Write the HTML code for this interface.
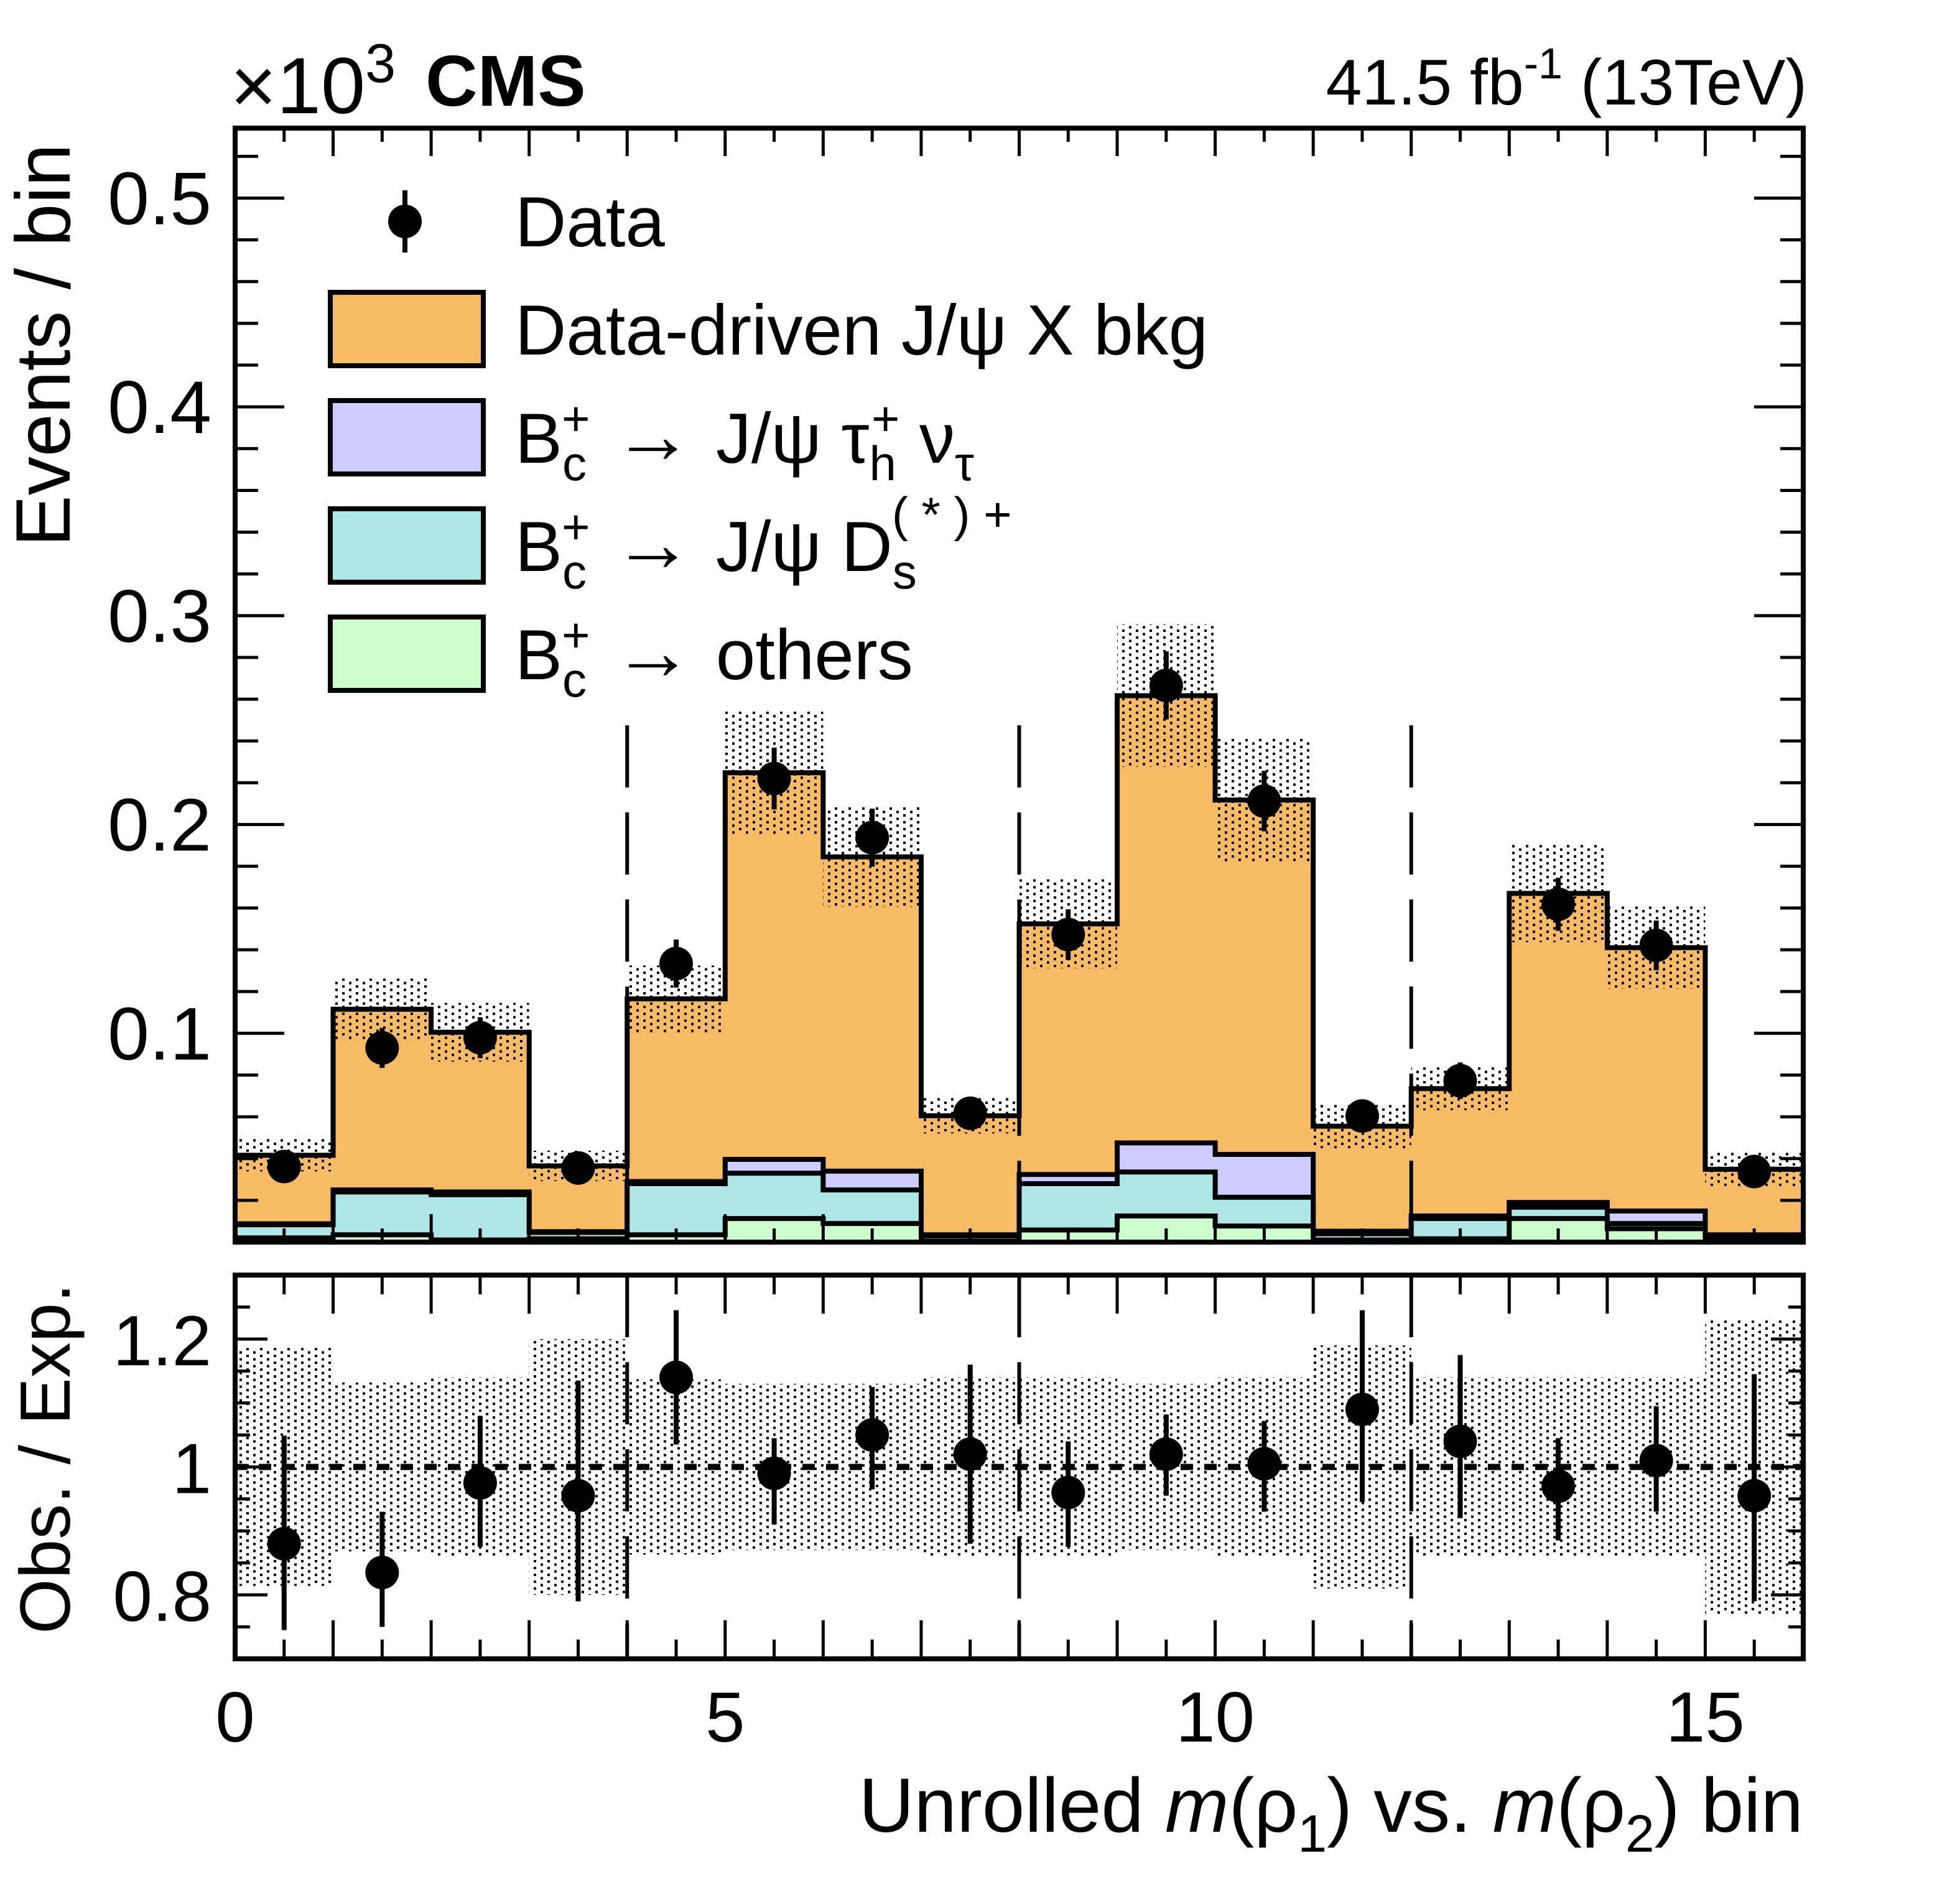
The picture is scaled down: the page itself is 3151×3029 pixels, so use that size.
<!DOCTYPE html>
<html><head><meta charset="utf-8">
<style>
html,body{margin:0;padding:0;background:#fff;}
svg{display:block;font-family:"Liberation Sans",Arial,sans-serif;}
</style></head>
<body>
<svg id="chart" xmlns="http://www.w3.org/2000/svg" width="3151" height="3029" viewBox="0 0 3151 3029">
<defs>
<pattern id="dots" width="22" height="11" patternUnits="userSpaceOnUse">
<rect x="0" y="0" width="4" height="4" fill="#000"/>
<rect x="11" y="5.5" width="4" height="4" fill="#000"/>
</pattern>
<clipPath id="clipU"><rect x="378" y="206" width="2521" height="1791"/></clipPath>
<clipPath id="clipL"><rect x="378" y="2050" width="2521" height="617"/></clipPath>
</defs>
<g id="upper"></g>
<g id="lower"></g>
<g id="labels">
<text x="370" y="182" font-size="128">×10<tspan font-size="88" dy="-50">3</tspan></text>
<text x="684" y="170" font-size="116" font-weight="bold">CMS</text>
<text x="2905" y="168" font-size="104" text-anchor="end">41.5 fb<tspan font-size="70" dy="-42">-1</tspan><tspan dy="42"> (13TeV)</tspan></text>
<text transform="translate(112,555) rotate(-90)" font-size="124" text-anchor="middle">Events / bin</text>
<text transform="translate(112,2345) rotate(-90)" font-size="114" text-anchor="middle">Obs. / Exp.</text>
<text x="2899" y="2945" font-size="123" text-anchor="end">Unrolled <tspan font-style="italic">m</tspan>(ρ<tspan font-size="84" dy="32">1</tspan><tspan dy="-32">) vs. </tspan><tspan font-style="italic">m</tspan>(ρ<tspan font-size="84" dy="32">2</tspan><tspan dy="-32">) bin</tspan></text>
</g>
<g id="legend">
<line x1="651" y1="306" x2="651" y2="406" stroke="#000" stroke-width="8"/>
<ellipse cx="651" cy="356" rx="27" ry="27" fill="#000"/>
<text x="828" y="396" font-size="114">Data</text>
<rect x="531" y="470" width="246" height="118" fill="#F7BB66" stroke="#000" stroke-width="8"/>
<text x="828" y="570" font-size="114">Data-driven J/ψ X bkg</text>
<rect x="531" y="644" width="246" height="118" fill="#CCCCFF" stroke="#000" stroke-width="8"/>
<text x="828" y="744" font-size="114">B<tspan font-size="78" dy="28">c</tspan><tspan font-size="78" dx="-40" dy="-72">+</tspan><tspan dy="44" font-size="130"> → </tspan><tspan>J/ψ  τ</tspan><tspan font-size="78" dy="28">h</tspan><tspan font-size="78" dx="-40" dy="-72">+</tspan><tspan dy="44">  ν</tspan><tspan font-size="78" dy="28">τ</tspan></text>
<rect x="531" y="818" width="246" height="118" fill="#AEE6E6" stroke="#000" stroke-width="8"/>
<text x="828" y="918" font-size="114">B<tspan font-size="78" dy="28">c</tspan><tspan font-size="78" dx="-40" dy="-72">+</tspan><tspan dy="44" font-size="130"> → </tspan><tspan>J/ψ  D</tspan><tspan font-size="78" dy="28">s</tspan><tspan font-size="78" dx="-40" dy="-92">( * ) +</tspan></text>
<rect x="531" y="992" width="246" height="118" fill="#CCFFCC" stroke="#000" stroke-width="8"/>
<text x="828" y="1092" font-size="114">B<tspan font-size="78" dy="28">c</tspan><tspan font-size="78" dx="-40" dy="-72">+</tspan><tspan dy="44" font-size="130"> → </tspan><tspan>others</tspan></text>
</g>
</svg>
<script>
const bins = [0,1,2,3,4,5,6,7,8,9,10,11,12,13,14,15];
const others = [0.002,0.0035,0.001,0.0016,0.0035,0.0113,0.0089,0.0005,0.0058,0.0125,0.0077,0.001,0.0016,0.0113,0.0064,0.0016];
const dsComp = [0.0063,0.0205,0.0217,0.003,0.0245,0.0217,0.0161,0.0025,0.0222,0.0211,0.0138,0.003,0.0097,0.0054,0.0025,0.0014];
const tauComp = [0.0005,0.001,0.0013,0.0004,0.001,0.0066,0.009,0.0005,0.0044,0.0139,0.0205,0.0012,0.0012,0.0023,0.006,0.0005];
const jpsiX = [0.0328,0.0865,0.0765,0.0315,0.0875,0.1852,0.1505,0.0570,0.1200,0.2142,0.1697,0.0503,0.0610,0.1480,0.1261,0.0314];
const dataVals = [0.0362,0.0930,0.0979,0.0355,0.1334,0.2220,0.1937,0.0617,0.1473,0.2666,0.2112,0.0604,0.0773,0.1618,0.1421,0.0338];
const dataErr = [0.0059,0.0096,0.0098,0.0058,0.0115,0.0148,0.0139,0.0078,0.0121,0.0163,0.0145,0.0077,0.0087,0.0127,0.0119,0.0057];
const bandRel = [0.186,0.132,0.14,0.2,0.137,0.13,0.13,0.14,0.14,0.13,0.14,0.19,0.14,0.14,0.14,0.23];
const ratioVals = [0.88,0.835,0.975,0.955,1.14,0.99,1.05,1.02,0.96,1.02,1.005,1.09,1.04,0.97,1.01,0.955];
const ratioLo = [0.745,0.75,0.875,0.79,1.035,0.91,0.965,0.88,0.875,0.955,0.93,0.945,0.92,0.885,0.93,0.79];
const ratioHi = [1.049,0.93,1.08,1.135,1.245,1.045,1.125,1.16,1.04,1.082,1.072,1.245,1.175,1.045,1.095,1.145];
const yTicksUpper = [0.1,0.2,0.3,0.4,0.5];
const yTickLabelsUpper = ["0.1","0.2","0.3","0.4","0.5"];
const yTicksLower = [0.8,1,1.2];
const yTickLabelsLower = ["0.8","1","1.2"];
const xTicks = [0,5,10,15];
const xTickLabels = ["0","5","10","15"];
const dividers = [4,8,12];

const NS="http://www.w3.org/2000/svg";
const X0=378,X1=2899,UT=206,UB=1997,LT=2050,LB=2667;
const xMin=0,xMax=16,yMin=0,yMax=0.5335,rMin=0.7,rMax=1.3;
const xs=v=>X0+(v-xMin)/(xMax-xMin)*(X1-X0);
const ys=v=>UB-(v-yMin)/(yMax-yMin)*(UB-UT);
const yr=v=>LB-(v-rMin)/(rMax-rMin)*(LB-LT);
function mk(tag,attrs,parent){const e=document.createElementNS(NS,tag);for(const k in attrs)e.setAttribute(k,attrs[k]);parent.appendChild(e);return e;}
const up=document.getElementById('upper'), lo=document.getElementById('lower');
const gU=mk('g',{'clip-path':'url(#clipU)'},up);


const gL=mk('g',{'clip-path':'url(#clipL)'},lo);



const c1=bins.map(i=>others[i]);
const c2=bins.map(i=>c1[i]+dsComp[i]);
const c3=bins.map(i=>c2[i]+tauComp[i]);
const c4=bins.map(i=>c3[i]+jpsiX[i]);
function stepPath(vals){let d=`M${xs(0)},${ys(0)}`;bins.forEach(i=>{d+=` L${xs(i)},${ys(vals[i])} L${xs(i+1)},${ys(vals[i])}`;});d+=` L${xs(16)},${ys(0)}`;return d;}
const layers=[[c4,'#F7BB66','stack-jpsix'],[c3,'#CCCCFF','stack-tau'],[c2,'#AEE6E6','stack-ds'],[c1,'#CCFFCC','stack-others']];
layers.forEach(([v,col,name])=>{
  const p=mk('path',{d:stepPath(v)+' Z',fill:col,stroke:'none'},gU);
  
  
  const s=mk('path',{d:stepPath(v),fill:'none',stroke:'#000','stroke-width':8,'stroke-linejoin':'miter'},gU);
  
  
});
bins.forEach(i=>{
  const t=c4[i]*(1+bandRel[i]), b=c4[i]*(1-bandRel[i]);
  const r=mk('rect',{x:xs(i),y:ys(t),width:xs(i+1)-xs(i),height:ys(b)-ys(t),fill:'url(#dots)'},gU);
  
  
});
dividers.forEach(v=>{
  const l=mk('line',{x1:xs(v),x2:xs(v),y1:ys(0.2475),y2:UB,stroke:'#000','stroke-width':6,'stroke-dasharray':'100 40'},gU);
  
  
});
bins.forEach(i=>{
  const cx=xs(i+0.5);
  const l=mk('line',{x1:cx,x2:cx,y1:ys(dataVals[i]+dataErr[i]),y2:ys(dataVals[i]-dataErr[i]),stroke:'#000','stroke-width':8},gU);
  
  
  const c=mk('ellipse',{cx:cx,cy:ys(dataVals[i]),rx:27,ry:27,fill:'#000'},gU);
  
  
});
bins.forEach(i=>{
  const r=mk('rect',{x:xs(i),y:yr(1+bandRel[i]),width:xs(i+1)-xs(i),height:yr(1-bandRel[i])-yr(1+bandRel[i]),fill:'url(#dots)'},gL);
  
  
});
const unity=mk('line',{x1:X0,x2:X1,y1:yr(1),y2:yr(1),stroke:'#000','stroke-width':10,'stroke-dasharray':'20 18'},gL);


dividers.forEach(v=>{
  const l=mk('line',{x1:xs(v),x2:xs(v),y1:LT,y2:LB,stroke:'#000','stroke-width':6,'stroke-dasharray':'100 40'},gL);
  
  
});
bins.forEach(i=>{
  const cx=xs(i+0.5);
  const l=mk('line',{x1:cx,x2:cx,y1:yr(ratioHi[i]),y2:yr(ratioLo[i]),stroke:'#000','stroke-width':8},gL);
  
  
  const c=mk('ellipse',{cx:cx,cy:yr(ratioVals[i]),rx:27,ry:27,fill:'#000'},gL);
  
  
});
function tick(parent,x1,y1,x2,y2,name){const l=mk('line',{x1,y1,x2,y2,stroke:'#000','stroke-width':5},parent);}
for(let k=0;k<=32;k++){const v=k/2, maj=(k%2===0), x=xs(v);
  tick(up,x,UB,x,UB-(maj?45:22),'x-tick');tick(up,x,UT,x,UT+(maj?45:22),'x-tick');
  tick(lo,x,LB,x,LB-(maj?62:31),'ratio-x-tick');tick(lo,x,LT,x,LT+(maj?62:31),'ratio-x-tick');}
for(let k=1;k<=26;k++){const v=k*0.02, maj=(k%5===0), y=ys(v);
  tick(up,X0,y,X0+(maj?79:37),y,'y-tick');tick(up,X1,y,X1-(maj?79:37),y,'y-tick');}
for(let k=1;k<12;k++){const v=0.7+k*0.05, maj=(k%4===2), y=yr(v);
  tick(lo,X0,y,X0+(maj?52:24),y,'ratio-y-tick');tick(lo,X1,y,X1-(maj?52:24),y,'ratio-y-tick');}
const fU=mk('rect',{x:X0,y:UT,width:X1-X0,height:UB-UT,fill:'none',stroke:'#000','stroke-width':8},up);


const fL=mk('rect',{x:X0,y:LT,width:X1-X0,height:LB-LT,fill:'none',stroke:'#000','stroke-width':8},lo);


yTicksUpper.forEach((v,i)=>{const t=mk('text',{x:340,y:ys(v)+42,'font-size':120,'text-anchor':'end'},up);t.textContent=yTickLabelsUpper[i];
  
  });
yTicksLower.forEach((v,i)=>{const t=mk('text',{x:340,y:yr(v)+42,'font-size':114,'text-anchor':'end'},lo);t.textContent=yTickLabelsLower[i];
  
  });
xTicks.forEach((v,i)=>{const t=mk('text',{x:xs(v),y:2800,'font-size':114,'text-anchor':'middle'},lo);t.textContent=xTickLabels[i];
  
  });
</script>
</body></html>
